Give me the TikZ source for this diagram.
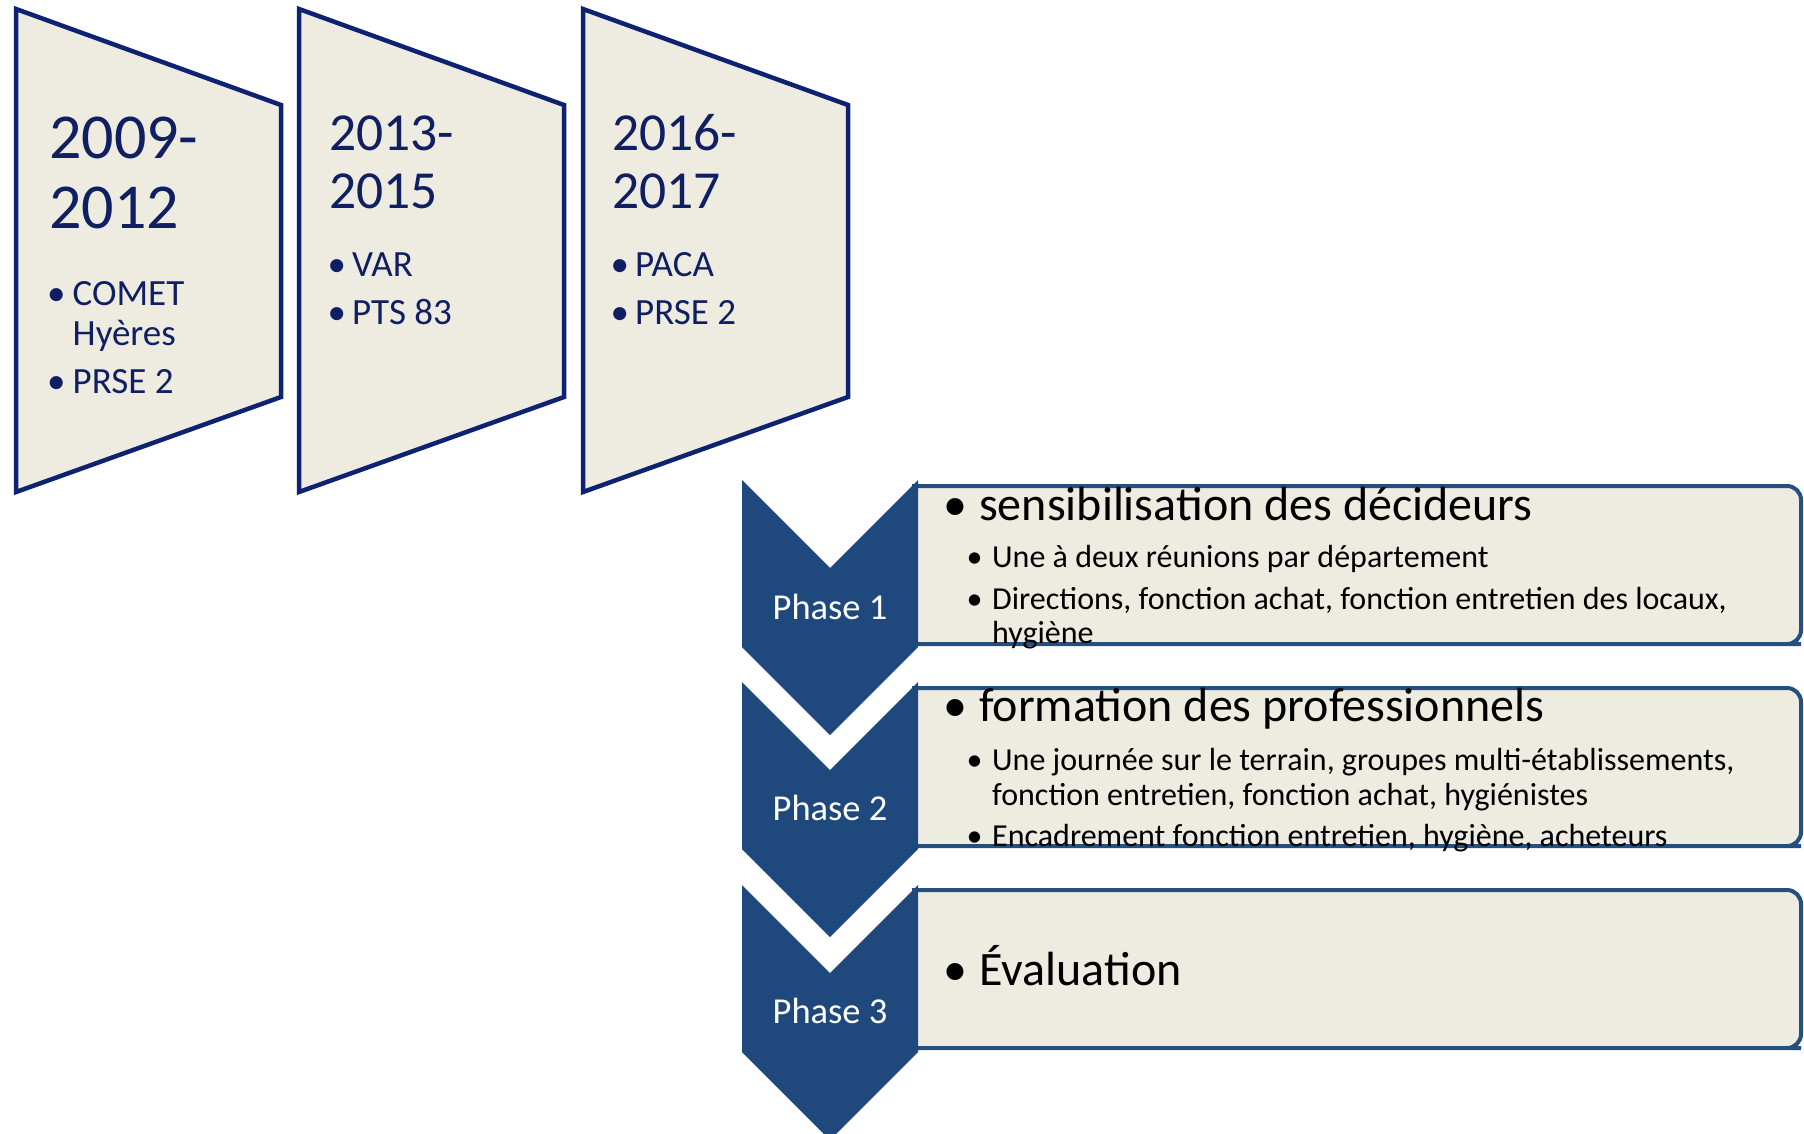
\documentclass[tikz,border=0pt]{standalone}
\usepackage{fontspec}
\setmainfont{Carlito}
\definecolor{navy}{HTML}{0D2273}
\definecolor{navytxt}{HTML}{0F1F62}
\definecolor{panel}{HTML}{EEEBE1}
\definecolor{chev}{HTML}{1F497D}
\definecolor{boxline}{HTML}{23507F}
\newcommand{\bl}[2]{\makebox[#1][l]{\textbullet}#2}
\begin{document}
\begin{tikzpicture}[x=1pt,y=-1pt,
  trap/.style={draw=navy,fill=panel,line width=4.5pt,line join=miter},
  pbox/.style={draw=boxline,fill=panel,line width=4pt},
  chevron/.style={fill=chev,draw=none},
  yearbig/.style={font=\fontsize{64}{70}\selectfont,text=navytxt,anchor=base west,inner sep=0pt},
  yearsm/.style={font=\fontsize{53.5}{58}\selectfont,text=navytxt,anchor=base west,inner sep=0pt},
  trapitem/.style={font=\fontsize{37}{42}\selectfont,text=navytxt,anchor=base west,inner sep=0pt},
  phaselbl/.style={font=\fontsize{36.5}{42}\selectfont,text=white,anchor=base,inner sep=0pt},
  mainitem/.style={font=\fontsize{48}{54}\selectfont,text=black,anchor=base west,inner sep=0pt},
  subitem/.style={font=\fontsize{32}{35}\selectfont,text=black,anchor=base west,inner sep=0pt}]
\useasboundingbox (0,0) rectangle (1804,1133);
\clip (0,0) rectangle (1804,1133);
\fill[white] (0,0) rectangle (1804,1133);

% trapezoids
\draw[trap] (16,9) -- (281,105) -- (281,397) -- (16,492) -- cycle;
\draw[trap] (299,9) -- (564,105) -- (564,397) -- (299,492) -- cycle;
\draw[trap] (583,9) -- (848,105) -- (848,397) -- (583,492) -- cycle;

\node[yearbig] (y1a) at (49,158) {2009-};
\node[yearbig] (y1b) at (49,228) {2012};
\node[trapitem] (t1a) at (47,305) {\bl{25.5pt}{COMET}};
\node[trapitem] (t1b) at (72.5,345) {Hyères};
\node[trapitem] (t1c) at (47,393) {\bl{25.5pt}{PRSE 2}};

\node[yearsm] (y2a) at (329,150) {2013-};
\node[yearsm] (y2b) at (329,208) {2015};
\node[trapitem] (t2a) at (327.5,276) {\bl{24.5pt}{VAR}};
\node[trapitem] (t2b) at (327.5,324) {\bl{24.5pt}{PTS 83}};

\node[yearsm] (y3a) at (612,150) {2016-};
\node[yearsm] (y3b) at (612,208) {2017};
\node[trapitem] (t3a) at (610.5,276) {\bl{24.5pt}{PACA}};
\node[trapitem] (t3b) at (610.5,324) {\bl{24.5pt}{PRSE 2}};

% phase boxes (left side hidden behind the chevrons)
\foreach \b in {486,688,890}{
  \draw[pbox] (914,\b+158) -- (914,\b) -- (1787,\b) [rounded corners=14pt] -- (1801,\b) -- (1801,\b+158) -- (1787,\b+158) [sharp corners] -- (914,\b+158);
}

% chevrons
\foreach \t/\n in {480/1,682/2,885/3}{
  \fill[chevron] (742,\t) -- (830,\t+88) -- (918,\t) -- (918,\t+167) -- (830,\t+255) -- (742,\t+167) -- cycle;
}
\node[phaselbl] (p1) at (830,619) {Phase 1};
\node[phaselbl] (p2) at (830,820) {Phase 2};
\node[phaselbl] (p3) at (830,1023) {Phase 3};

\node[mainitem] (m1) at (943.5,520) {\bl{35.5pt}{sensibilisation des décideurs}};
\node[subitem] (s1a) at (966.5,567) {\bl{25.5pt}{Une à deux réunions par département}};
\node[subitem] (s1b) at (966.5,609) {\bl{25.5pt}{Directions, fonction achat, fonction entretien des locaux,}};
\node[subitem] (s1c) at (992,643) {hygiène};

\node[mainitem] (m2) at (943.5,721) {\bl{35.5pt}{formation des professionnels}};
\node[subitem] (s2a) at (966.5,770) {\bl{25.5pt}{Une journée sur le terrain, groupes multi-établissements,}};
\node[subitem] (s2b) at (992,805) {fonction entretien, fonction achat, hygiénistes};
\node[subitem] (s2c) at (966.5,846) {\bl{25.5pt}{Encadrement fonction entretien, hygiène, acheteurs}};

\node[mainitem] (m3) at (943.5,985) {\bl{35.5pt}{Évaluation}};
\end{tikzpicture}
\end{document}
